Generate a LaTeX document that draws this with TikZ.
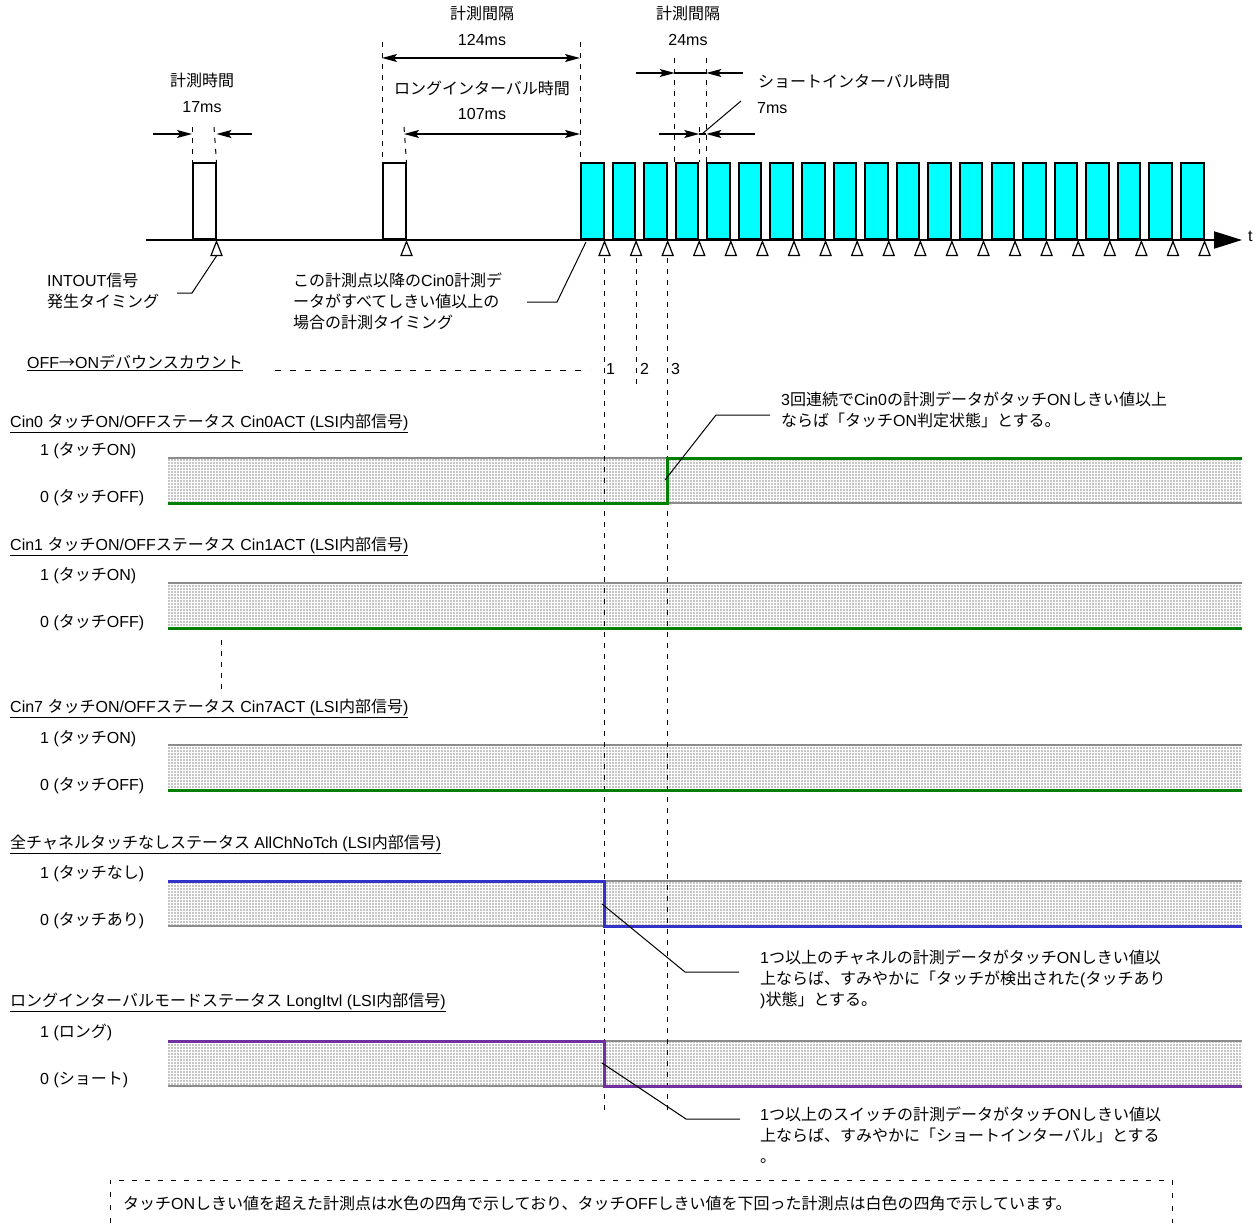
\documentclass[tikz,border=0pt]{standalone}
\usepackage{fontspec}
\setmainfont{Liberation Sans}
\newfontfamily\jpfont{Noto Sans CJK JP}
\newXeTeXintercharclass\jpclass
\newcount\jpcnt
\jpcnt="3000
\loop
  \XeTeXcharclass\jpcnt=\jpclass
  \ifnum\jpcnt<"9FFF \advance\jpcnt by 1
\repeat
\jpcnt="FF00
\loop
  \XeTeXcharclass\jpcnt=\jpclass
  \ifnum\jpcnt<"FFEF \advance\jpcnt by 1
\repeat
\XeTeXcharclass"2192=\jpclass
\XeTeXinterchartoks 0 \jpclass = {\jpfont}
\XeTeXinterchartoks 4095 \jpclass = {\jpfont}
\XeTeXinterchartoks \jpclass 0 = {\rmfamily}
\XeTeXinterchartoks \jpclass 4095 = {\rmfamily}
\XeTeXinterchartokenstate=1
\usetikzlibrary{arrows.meta,patterns.meta,calc}
\tikzdeclarepattern{name=griddots,type=uncolored,bounding box={(0pt,0pt) and (3pt,3pt)},tile size={(3pt,3pt)},code={\pgfpathrectangle{\pgfpoint{0.5pt}{0.5pt}}{\pgfpoint{1.7pt}{1.7pt}}\pgfusepath{fill}}}
\definecolor{pcyan}{RGB}{0,255,255}
\definecolor{sgreen}{RGB}{0,128,0}
\definecolor{sblue}{RGB}{51,51,204}
\definecolor{spurple}{RGB}{112,48,160}
\definecolor{bandgray}{RGB}{140,140,140}
\definecolor{dotgray}{RGB}{120,120,120}
\tikzset{
 txt/.style={font=\fontsize{16}{21}\selectfont, inner sep=0pt},
 lbl/.style={txt, anchor=west},
 mtxt/.style={txt, align=left, anchor=north west},
 pulse/.style={draw=black, line width=2pt, minimum width=22.5pt, minimum height=76pt, anchor=south west, inner sep=0pt},
 cpulse/.style={pulse, fill=pcyan},
 wpulse/.style={pulse, fill=white},
 tick/.style={draw=black, line width=1.2pt, fill=white, line join=miter},
 vdash/.style={draw=black, line width=1pt, dash pattern=on 5pt off 6pt},
 dimarrow/.style={draw=black, line width=1.2pt, -{Stealth[length=15pt,width=8pt,inset=3pt]}},
 dimdouble/.style={draw=black, line width=1.2pt, {Stealth[length=15pt,width=8pt,inset=3pt]}-{Stealth[length=15pt,width=8pt,inset=3pt]}},
 dimline/.style={draw=black, line width=1.2pt},
 leader/.style={draw=black, line width=1pt},
 band/.style={pattern=griddots, pattern color=dotgray, draw=none, minimum width=1074pt, minimum height=45pt, anchor=north west, inner sep=0pt},
 bandedge/.style={draw=bandgray, line width=2pt},
 sig/.style={line width=3pt, line join=miter},
}
\begin{document}
\begin{tikzpicture}[x=1pt,y=-1pt]
\useasboundingbox (0,0) rectangle (1260,1223);
% ---------- bands ----------
\node[band] (b0) at (168,458) {};
\node[band] (b1) at (168,583) {};
\node[band] (b7) at (168,745) {};
\node[band] (ba) at (168,881) {};
\node[band] (bl) at (168,1041) {};
\foreach \b in {b0,b1,b7,ba,bl}{
  \draw[bandedge] (\b.north west) -- (\b.north east);
  \draw[bandedge] (\b.south west) -- (\b.south east);
}
% ---------- pulses ----------
\node[wpulse] (w1) at (192,240) {};
\node[wpulse] (w2) at (382,240) {};
\foreach \i in {0,...,19}{
  \node[cpulse] (c\i) at ({580+\i*31.58},240) {};
}
% axis
\coordinate (ax0) at (146,240);
\coordinate (ax1) at (1242,240);
\draw[line width=2pt, -{Triangle[length=28pt,width=17pt]}] (ax0) -- (ax1);
\node[lbl] (tT) at (1248,236) {t};
% ticks (triangles)
\foreach \n in {w1,w2,c0,c1,c2,c3,c4,c5,c6,c7,c8,c9,c10,c11,c12,c13,c14,c15,c16,c17,c18,c19}{
  \draw[tick] ($(\n.south east)+(0,1.5)$) -- ++(-5.5,14) -- ++(11,0) -- cycle;
}
% ---------- dimension lines ----------
\draw[vdash] (192,127) -- (w1.north west);
\draw[vdash] (214,127) -- (w1.north east);
\draw[vdash] (382,42) -- (w2.north west);
\draw[vdash] (404,127) -- (w2.north east);
\draw[vdash] (580,42) -- (c0.north west);
\draw[vdash] (c3.north west |- 0,58) -- (c3.north west);
\draw[vdash] (c4.north west |- 0,58) -- (c4.north west);
\draw[vdash] (c3.north east |- 0,127) -- (c3.north east);

\node[txt] (tMeasT) at (202,80) {計測時間};
\node[txt] (tMeasV) at (202,107) {17ms};
\coordinate (d17a) at (153,134);
\coordinate (d17b) at (252,134);
\draw[dimarrow] (d17a) -- (d17a -| w1.west);
\draw[dimarrow] (d17b) -- (d17b -| w1.east);

\node[txt] (tIntL) at (482,13) {計測間隔};
\node[txt] (tIntLV) at (482,40) {124ms};
\coordinate (d124a) at (382,58);
\coordinate (d124b) at (580,58);
\draw[dimdouble] (d124a) -- (d124b);

\node[txt] (tLong) at (482,88) {ロングインターバル時間};
\node[txt] (tLongV) at (482,114) {107ms};
\coordinate (d107a) at (404,134);
\coordinate (d107b) at (580,134);
\draw[dimdouble] (d107a) -- (d107b);

\node[txt] (tIntS) at (688,13) {計測間隔};
\node[txt] (tIntSV) at (688,40) {24ms};
\coordinate (d24a) at (636,73);
\coordinate (d24b) at (743,73);
\draw[dimline] (d24a -| c3.west) -- (d24a -| c4.west);
\draw[dimarrow] (d24a) -- (d24a -| c3.west);
\draw[dimarrow] (d24b) -- (d24b -| c4.west);

\node[lbl] (tShort) at (758,81) {ショートインターバル時間};
\node[lbl] (tShortV) at (757,108) {7ms};
\coordinate (d7a) at (659,134);
\coordinate (d7b) at (755,134);
\coordinate (d7m) at (702,134);
\coordinate (d7l) at (741,101);
\draw[dimline] (d7a -| c3.east) -- (d7a -| c4.west);
\draw[dimarrow] (d7a) -- (d7a -| c3.east);
\draw[dimarrow] (d7b) -- (d7b -| c4.west);
\draw[leader] (d7m) -- (d7l);

% ---------- annotations near axis ----------
\node[mtxt] (tIntout) at (47,273) {INTOUT信号\\発生タイミング};
\coordinate (lI1) at (192,293);
\coordinate (lI2) at (177,293);
\draw[leader] ($(w1.south east)+(0,16)$) -- (lI1) -- (lI2);

\node[mtxt] (tCinNote) at (293,273) {この計測点以降のCin0計測デ\\ータがすべてしきい値以上の\\場合の計測タイミング};
\coordinate (lC0) at (586,242);
\coordinate (lC1) at (557,302);
\coordinate (lC2) at (527,302);
\draw[leader] (lC0) -- (lC1) -- (lC2);

% ---------- debounce ----------
\node[lbl] (tDeb) at (27,363) {\underline{OFF→ONデバウンスカウント}};
\coordinate (db0) at (275,370);
\coordinate (db1) at (590,370);
\draw[vdash, dash pattern=on 6pt off 9pt] (db0) -- (db1);
\draw[vdash] ($(c0.south east)+(0,18)$) -- (c0.south east |- 0,1110);
\draw[vdash] ($(c1.south east)+(0,18)$) -- (c1.south east |- 0,388);
\draw[vdash] ($(c2.south east)+(0,18)$) -- (c2.south east |- 0,1110);
\node[lbl] (n1) at (606,369) {1};
\node[lbl] (n2) at (640,369) {2};
\node[lbl] (n3) at (671,369) {3};

% ---------- Cin0 ----------
\node[lbl] (tC0) at (10,423) {\underline{Cin0 タッチON/OFFステータス Cin0ACT (LSI内部信号)}};
\node[lbl] (tC0h) at (40,451) {1 (タッチON)};
\node[lbl] (tC0l) at (40,498) {0 (タッチOFF)};
\draw[sig, sgreen] (b0.south west) -- (b0.south west -| c2.east) -- (b0.north west -| c2.east) -- (b0.north east);
\node[mtxt] (aC0) at (781,392) {3回連続でCin0の計測データがタッチONしきい値以上\\ならば「タッチON判定状態」とする。};
\coordinate (lA0) at (665,480);
\coordinate (lA1) at (716,415);
\coordinate (lA2) at (770,415);
\draw[leader] (lA0) -- (lA1) -- (lA2);

% ---------- Cin1 ----------
\node[lbl] (tC1) at (10,546) {\underline{Cin1 タッチON/OFFステータス Cin1ACT (LSI内部信号)}};
\node[lbl] (tC1h) at (40,576) {1 (タッチON)};
\node[lbl] (tC1l) at (40,623) {0 (タッチOFF)};
\draw[sig, sgreen] (b1.south west) -- (b1.south east);
\coordinate (el0) at (221,640);
\coordinate (el1) at (221,695);
\draw[vdash] (el0) -- (el1);

% ---------- Cin7 ----------
\node[lbl] (tC7) at (10,708) {\underline{Cin7 タッチON/OFFステータス Cin7ACT (LSI内部信号)}};
\node[lbl] (tC7h) at (40,739) {1 (タッチON)};
\node[lbl] (tC7l) at (40,786) {0 (タッチOFF)};
\draw[sig, sgreen] (b7.south west) -- (b7.south east);

% ---------- AllChNoTch ----------
\node[lbl] (tAC) at (10,844) {\underline{全チャネルタッチなしステータス AllChNoTch (LSI内部信号)}};
\node[lbl] (tACh) at (40,874) {1 (タッチなし)};
\node[lbl] (tACl) at (40,921) {0 (タッチあり)};
\draw[sig, sblue] (ba.north west) -- (ba.north west -| c0.east) -- (ba.south west -| c0.east) -- (ba.south east);
\node[mtxt] (aAC) at (760,950) {1つ以上のチャネルの計測データがタッチONしきい値以\\上ならば、すみやかに「タッチが検出された(タッチあり\\)状態」とする。};
\coordinate (lB0) at (602,904);
\coordinate (lB1) at (685,972);
\coordinate (lB2) at (739,972);
\draw[leader] (lB0) -- (lB1) -- (lB2);

% ---------- LongItvl ----------
\node[lbl] (tLI) at (10,1002) {\underline{ロングインターバルモードステータス LongItvl (LSI内部信号)}};
\node[lbl] (tLIh) at (40,1032) {1 (ロング)};
\node[lbl] (tLIl) at (40,1080) {0 (ショート)};
\draw[sig, spurple] (bl.north west) -- (bl.north west -| c0.east) -- (bl.south west -| c0.east) -- (bl.south east);
\node[mtxt] (aLI) at (760,1107) {1つ以上のスイッチの計測データがタッチONしきい値以\\上ならば、すみやかに「ショートインターバル」とする\\。};
\coordinate (lL0) at (602,1063);
\coordinate (lL1) at (686,1119);
\coordinate (lL2) at (740,1119);
\draw[leader] (lL0) -- (lL1) -- (lL2);

% ---------- bottom note ----------
\coordinate (bx0) at (110,1223);
\coordinate (bx1) at (110,1180);
\coordinate (bx2) at (1172,1180);
\coordinate (bx3) at (1172,1223);
\draw[vdash, dash pattern=on 5pt off 8pt] (bx0) -- (bx1) -- (bx2) -- (bx3);
\node[lbl] (tNote) at (123,1203) {タッチONしきい値を超えた計測点は水色の四角で示しており、タッチOFFしきい値を下回った計測点は白色の四角で示しています。};
\end{tikzpicture}
\end{document}
